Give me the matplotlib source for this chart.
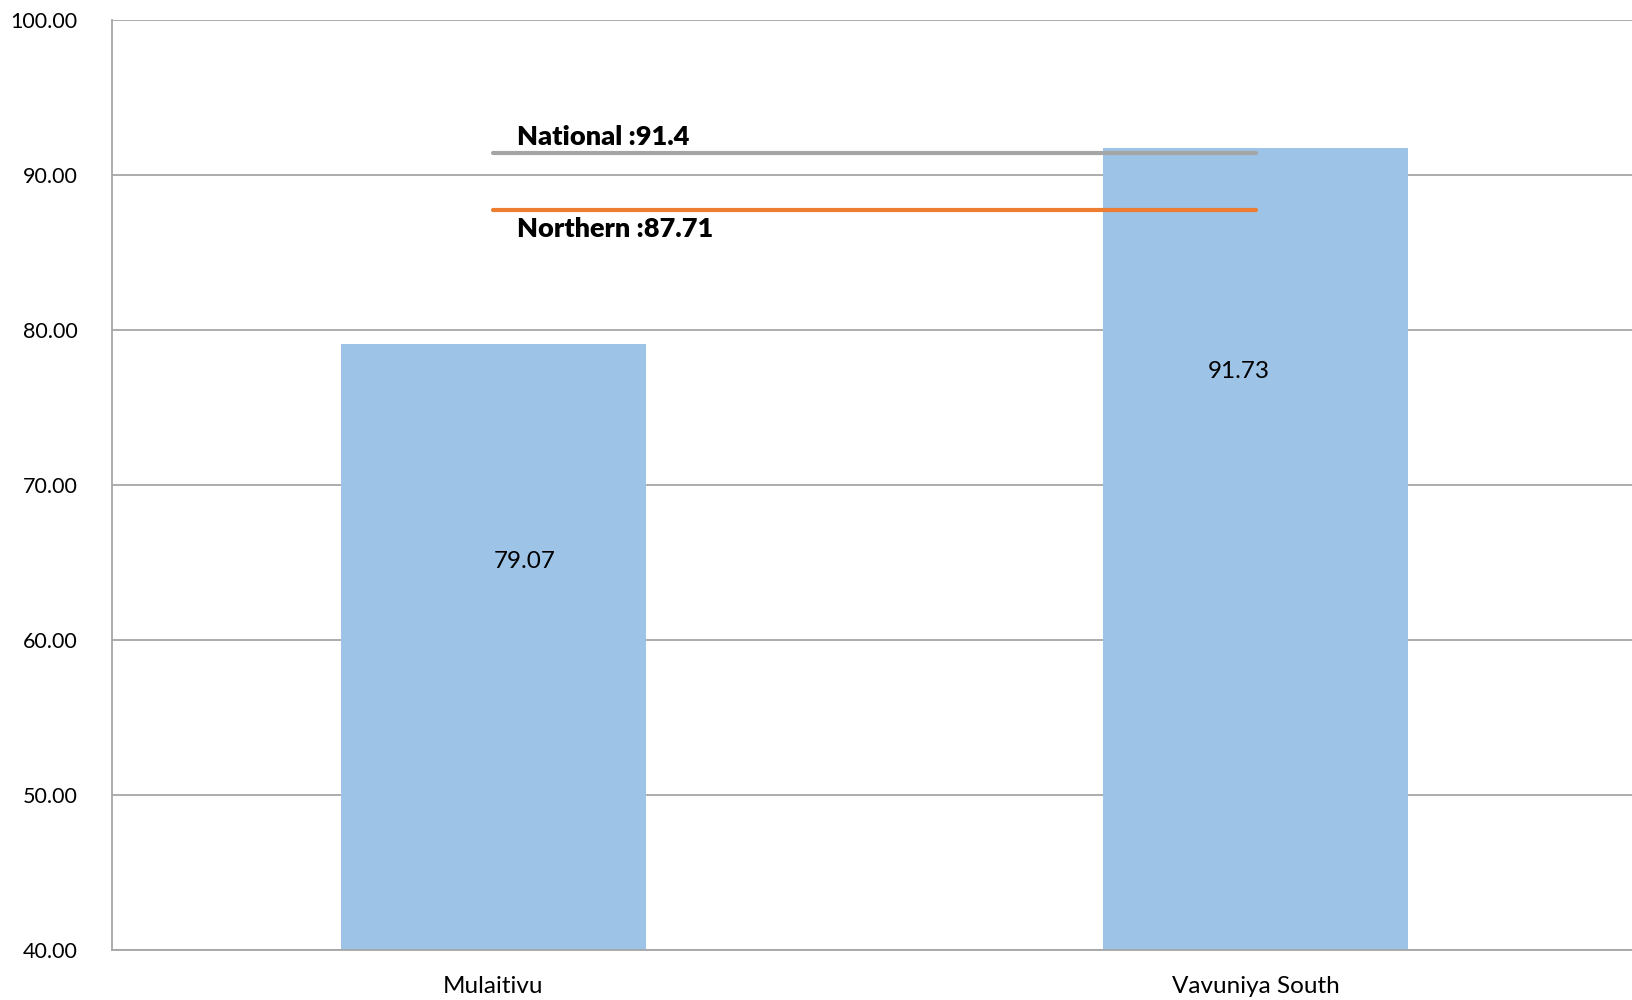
import matplotlib.pyplot as plt
import numpy as np

plt.rcParams['font.family'] = ['Lato', 'DejaVu Sans']

categories = ['Mulaitivu', 'Vavuniya South']
values = [79.07, 91.73]
national = 91.4
northern = 87.71
yticks = [40, 50, 60, 70, 80, 90, 100]

# where the value labels sit relative to each bar (dx in category units, dy in data units)
label_dx = [0.041, -0.023]
label_dy = [-14.0, -14.4]

fig = plt.figure(figsize=(16.33, 10), dpi=100)
ax = fig.add_axes([0.0686, 0.05, 0.934, 0.93])

x = np.arange(len(categories))
ax.bar(x, values, width=0.4, color='#9dc3e6', zorder=2)

for xi, v, dx, dy in zip(x, values, label_dx, label_dy):
    ax.text(xi + dx, v + dy, f'{v:.2f}', ha='center', va='center', fontsize=17.5, color='black', zorder=4)

# reference lines between the two categories
ax.hlines(national, x[0], x[-1], color='#a5a5a5', linewidth=3, zorder=3, capstyle='round')
ax.hlines(northern, x[0], x[-1], color='#ed7d31', linewidth=3, zorder=3, capstyle='round')
ax.text(x[0] + 0.031, national + 0.3, f'National :{national}', ha='left', va='bottom',
        fontsize=19.5, fontweight='heavy', color='black', zorder=4)
ax.text(x[0] + 0.031, northern - 0.4, f'Northern :{northern}', ha='left', va='top',
        fontsize=19.5, fontweight='heavy', color='black', zorder=4)

ax.set_xlim(-0.5, 1.5)
ax.set_ylim(40, 100)
ax.set_yticks(yticks)
ax.set_yticklabels([f'{t:.2f}' for t in yticks], fontsize=15.5)
ax.set_xticks(x)
ax.set_xticklabels(categories, fontsize=17.5)
ax.tick_params(axis='y', length=0, pad=25)
ax.tick_params(axis='x', length=0, pad=19)

ax.yaxis.grid(True, color='#a6a6a6', linewidth=1.3, zorder=1)
ax.set_axisbelow(True)
for s in ['top', 'right']:
    ax.spines[s].set_visible(False)
for s in ['left', 'bottom']:
    ax.spines[s].set_color('#a6a6a6')
    ax.spines[s].set_linewidth(1.3)

fig.savefig('out.png', dpi=100)
